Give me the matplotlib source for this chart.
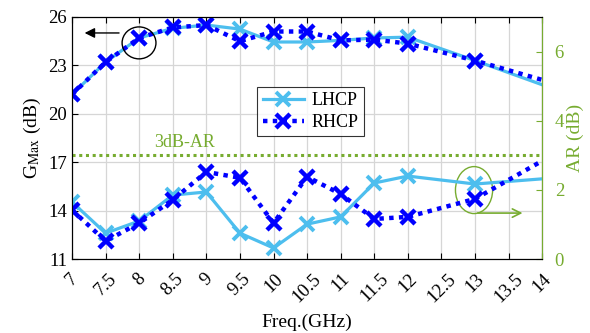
import matplotlib
matplotlib.use("Agg")
import matplotlib.pyplot as plt
from matplotlib.patches import Ellipse, FancyArrowPatch

# Data
freq = [7, 7.5, 8, 8.5, 9, 9.5, 10, 10.5, 11, 11.5, 12, 13, 14]
gmax_lhcp = [21.2, 23.2, 24.7, 25.3, 25.5, 25.25, 24.45, 24.45, 24.55, 24.7, 24.75, 23.3, 21.8]
gmax_rhcp = [21.2, 23.2, 24.7, 25.35, 25.5, 24.5, 25.1, 25.1, 24.55, 24.6, 24.35, 23.3, 22.1]
ar_lhcp = [1.65, 0.75, 1.1, 1.85, 1.94, 0.75, 0.32, 1.01, 1.22, 2.2, 2.4, 2.17, 2.32]
ar_rhcp = [1.42, 0.52, 1.04, 1.71, 2.52, 2.35, 1.04, 2.38, 1.88, 1.16, 1.22, 1.74, 2.84]
ar_limit = 3.0

xticks = [7 + 0.5 * i for i in range(15)]
xtick_labels = ["7", "7.5", "8", "8.5", "9", "9.5", "10", "10.5", "11", "11.5",
                "12", "12.5", "13", "13.5", "14"]
gticks = [11, 14, 17, 20, 23, 26]
articks = [0, 2, 4, 6]

light_blue = "#4DBEEE"
blue = "#0000FF"
green = "#77AC30"

plt.rcParams["font.family"] = ["Liberation Serif", "DejaVu Serif"]
plt.rcParams["mathtext.fontset"] = "stix"

fig = plt.figure(figsize=(5.9, 3.33), dpi=100)
ax = fig.add_axes([0.122, 0.222, 0.797, 0.727])
ax2 = ax.twinx()

marks = list(range(len(freq) - 1))
l1, = ax.plot(freq, gmax_lhcp, color=light_blue, lw=2.3, marker="x", ms=10, mew=2.8,
              markevery=marks, label="LHCP")
l2, = ax.plot(freq, gmax_rhcp, color=blue, lw=3.2, ls=(0, (1, 1.2)), marker="x", ms=10,
              mew=3.2, markevery=marks, label="RHCP")
ax2.plot(freq, ar_lhcp, color=light_blue, lw=2.3, marker="x", ms=10, mew=2.8, markevery=marks)
ax2.plot(freq, ar_rhcp, color=blue, lw=3.2, ls=(0, (1, 1.2)), marker="x", ms=10, mew=3.2,
         markevery=marks)
ax2.axhline(ar_limit, color=green, lw=2.2, ls=(0, (1, 1.2)))

ax.set_xlim(7, 14)
ax.set_ylim(11, 26)
ax2.set_ylim(0, 7)
ax.set_xticks(xticks)
ax.set_xticklabels(xtick_labels, rotation=45, ha="center", va="top")
ax.set_yticks(gticks)
ax2.set_yticks(articks)
ax.grid(True, color="#d6d6d6", lw=0.9)
ax.set_axisbelow(True)

ax.tick_params(axis="both", direction="in", labelsize=13.5, top=True, length=4)
ax.tick_params(axis="x", pad=8)
ax2.tick_params(axis="y", direction="in", colors=green, labelsize=13.5, length=4, pad=9)
ax2.spines["right"].set_color(green)
for s in ["left", "top", "bottom"]:
    ax.spines[s].set_linewidth(0.8)

ax.set_xlabel("Freq.(GHz)", fontsize=14, labelpad=6)
ax.set_ylabel(r"G$_{\mathrm{Max}}$ (dB)", fontsize=14, labelpad=4)
ax2.set_ylabel("AR (dB)", fontsize=14, color=green, labelpad=2)

ax2.text(0.24, 0.48, "3dB-AR", transform=ax.transAxes, color=green, fontsize=13,
         ha="center", va="center")

leg = ax2.legend([l1, l2], ["LHCP", "RHCP"], loc="upper left", bbox_to_anchor=(0.394, 0.711),
                 borderaxespad=0, fontsize=13, frameon=True, fancybox=False,
                 edgecolor="black", handlelength=2.3, borderpad=0.3, labelspacing=0.25,
                 handletextpad=0.4)
leg.get_frame().set_linewidth(0.8)

# annotations
ax2.add_patch(Ellipse((0.1426, 0.893), 0.072, 0.132, transform=ax.transAxes,
                      fill=False, ec="black", lw=1.0, clip_on=False))
ax2.add_patch(FancyArrowPatch((0.106, 0.934), (0.021, 0.934), transform=ax.transAxes,
                              arrowstyle="-|>,head_length=6,head_width=3", color="black",
                              lw=1.0, clip_on=False))
ax2.add_patch(Ellipse((0.855, 0.285), 0.079, 0.194, transform=ax.transAxes,
                      fill=False, ec=green, lw=1.0, clip_on=False))
ax2.add_patch(FancyArrowPatch((0.857, 0.19), (0.964, 0.19), transform=ax.transAxes,
                              arrowstyle="->,head_length=6,head_width=3", color=green,
                              lw=1.2, clip_on=False))

fig.savefig("out.png", dpi=100)
